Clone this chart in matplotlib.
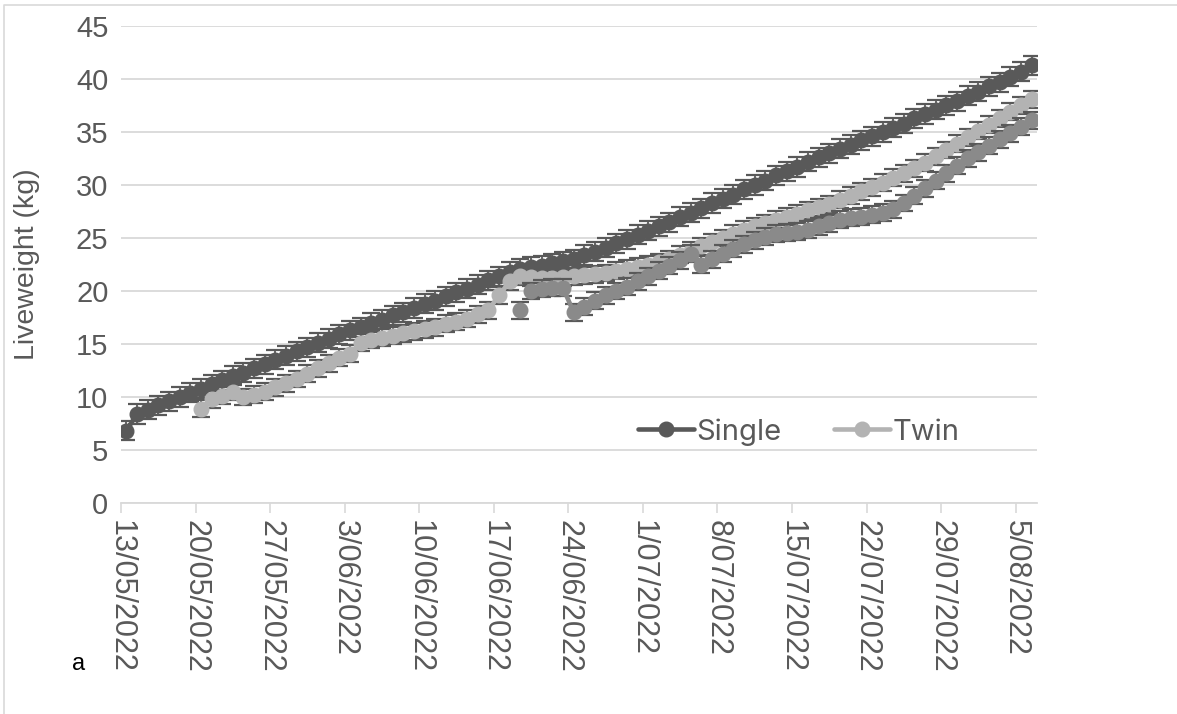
import numpy as np
import pandas as pd
import matplotlib
matplotlib.use('Agg')
import matplotlib.pyplot as plt
from matplotlib.lines import Line2D

plt.rcParams['font.family'] = ['Liberation Sans', 'DejaVu Sans']

# daily liveweight means (kg)
single_start = '2022-05-13'
single = [6.8, 8.4, 8.8, 9.2, 9.6, 10.0, 10.4, 10.8, 11.2, 11.6,
          12.0, 12.3, 12.7, 13.1, 13.5, 13.9, 14.3, 14.7, 15.1, 15.5,
          15.9, 16.3, 16.6, 17.0, 17.3, 17.7, 18.0, 18.4, 18.8, 19.1,
          19.5, 19.9, 20.2, 20.6, 21.0, 21.4, 21.8, 22.1, 22.3, 22.4,
          22.6, 22.8, 23.0, 23.4, 23.7, 24.1, 24.5, 24.9, 25.3, 25.7,
          26.1, 26.5, 27.0, 27.4, 27.8, 28.3, 28.7, 29.1, 29.6, 30.0,
          30.4, 30.9, 31.3, 31.7, 32.2, 32.6, 33.0, 33.4, 33.8, 34.2,
          34.6, 35.0, 35.4, 35.8, 36.3, 36.7, 37.1, 37.5, 37.9, 38.4,
          38.8, 39.3, 39.7, 40.2, 40.7, 41.3]

twin_start = '2022-05-20'
twin = [8.9, 9.8, 10.1, 10.5, 10.0, 10.2, 10.5, 10.9, 11.3, 11.7,
        12.2, 12.7, 13.2, 13.7, 14.1, 15.1, 15.4, 15.6, 15.8, 16.0,
        16.2, 16.4, 16.6, 16.9, 17.1, 17.4, 17.8, 18.2, 19.6, 20.9,
        21.4, 21.3, 21.2, 21.2, 21.3, 21.4, 21.5, 21.6, 21.7, 21.9,
        22.1, 22.3, 22.5, 22.7, 23.0, 23.4, 23.8, 24.2, 24.6, 25.0,
        25.4, 25.8, 26.1, 26.4, 26.7, 27.0, 27.3, 27.6, 27.9, 28.2,
        28.6, 29.0, 29.4, 29.8, 30.2, 30.7, 31.1, 31.6, 32.1, 32.7,
        33.3, 33.9, 34.5, 35.1, 35.7, 36.3, 36.9, 37.5, 38.1]

third_start = '2022-06-19'
third = [18.2, 20.0, 20.2, 20.3, 20.3, 18.0, 18.5, 19.1, 19.6, 20.0,
         20.4, 20.9, 21.4, 21.9, 22.4, 22.9, 23.5, 22.5, 23.0, 23.5,
         24.0, 24.4, 24.8, 25.1, 25.4, 25.5, 25.6, 25.8, 26.1, 26.4,
         26.7, 26.9, 27.0, 27.2, 27.4, 27.7, 28.3, 29.0, 29.7, 30.4,
         31.1, 31.8, 32.5, 33.1, 33.7, 34.3, 34.9, 35.5, 36.1]

single_err = 0.9
twin_err = 0.8
third_err = 0.8

tick_labels = ['13/05/2022', '20/05/2022', '27/05/2022', '3/06/2022',
               '10/06/2022', '17/06/2022', '24/06/2022', '1/07/2022',
               '8/07/2022', '15/07/2022', '22/07/2022', '29/07/2022',
               '5/08/2022']

grey_text = '#595959'
grid_col = '#D9D9D9'
series_cols = {'Single': '#595959', 'Twin': '#B3B3B3', 'third': '#8A8A8A'}


def day_axis(start, n):
    # points sit in the middle of each day, like Excel's date axis
    return pd.date_range(start, periods=n, freq='D') + pd.Timedelta(hours=12)


fig = plt.figure(figsize=(11.77, 7.14), dpi=100)
ax = fig.add_axes([0.1028, 0.2955, 0.7782, 0.6681])

x_single = day_axis(single_start, len(single))
x_twin = day_axis(twin_start, len(twin))
x_third = day_axis(third_start, len(third))

ekw = dict(fmt='none', ecolor='#595959', elinewidth=1.3, capsize=6.5, capthick=1.6)
lkw = dict(marker='o', markersize=10.5, linewidth=3.3, solid_capstyle='round')

ax.errorbar(x_single, single, yerr=single_err, zorder=2, **ekw)
ax.plot(x_single, single, color=series_cols['Single'], label='Single', zorder=3, **lkw)

ax.errorbar(x_twin, twin, yerr=twin_err, zorder=4, **ekw)
ax.plot(x_twin, twin, color=series_cols['Twin'], label='Twin', zorder=5, **lkw)

ax.errorbar(x_third, third, yerr=third_err, zorder=6, **ekw)
# first reading stands alone, not joined to the rest
ax.plot(x_third[:1], third[:1], color=series_cols['third'], linestyle='none',
        marker='o', markersize=10.5, zorder=7)
ax.plot(x_third[1:], third[1:], color=series_cols['third'], zorder=7, **lkw)

ax.set_xlim(pd.Timestamp('2022-05-13'), pd.Timestamp('2022-08-07'))
ax.set_ylim(0, 45)
ax.set_yticks(np.arange(0, 46, 5))

tick_pos = pd.date_range(single_start, periods=len(tick_labels), freq='7D')
ax.set_xticks(tick_pos)
ax.set_xticklabels(tick_labels, rotation=-90, fontsize=22, color=grey_text)
ax.tick_params(axis='x', direction='out', length=7, width=1.2, color=grid_col, pad=5)
ax.tick_params(axis='y', length=0, labelsize=21, labelcolor=grey_text, pad=9)

ax.grid(axis='y', color=grid_col, linewidth=1.3)
ax.set_axisbelow(True)
for side in ['left', 'right', 'top']:
    ax.spines[side].set_visible(False)
ax.spines['bottom'].set_color(grid_col)
ax.spines['bottom'].set_linewidth(1.3)

ax.set_ylabel('Liveweight (kg)', fontsize=20.5, color=grey_text, labelpad=26)

ax.legend(loc='center', bbox_to_anchor=(0.74, 0.149), ncol=2, frameon=False,
          prop={'family': 'Inter', 'size': 21}, handlelength=1.9,
          handletextpad=0.1, columnspacing=1.8, labelcolor=grey_text)

fig.text(72 / 1177, 1 - 664 / 714, 'a', fontsize=17, color='black', va='center')

# chart-area border, only the left and top edges fall inside the picture
fig.add_artist(Line2D([4 / 1177, 4 / 1177, 1], [0, 1 - 5 / 714, 1 - 5 / 714],
                      transform=fig.transFigure, color=grid_col, linewidth=1.2))

fig.savefig('out.png', dpi=100)
